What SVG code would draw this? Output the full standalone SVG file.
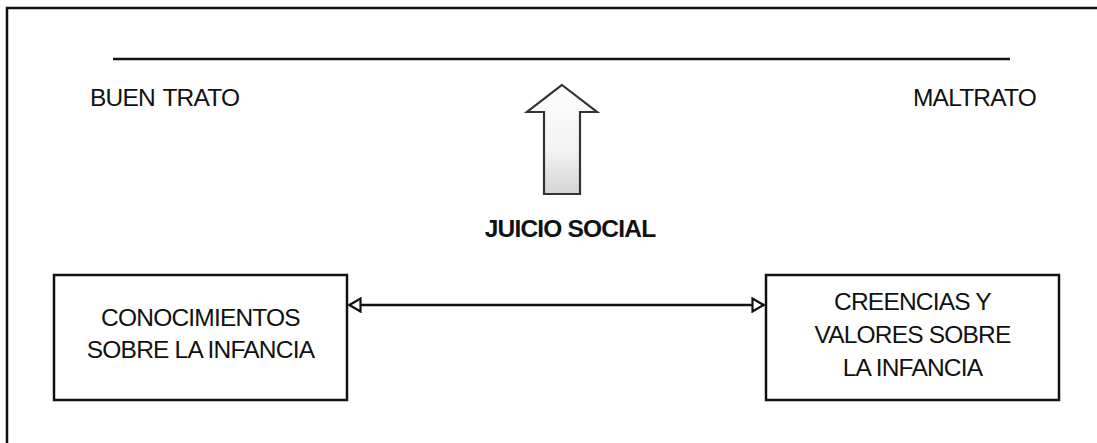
<svg xmlns="http://www.w3.org/2000/svg" width="1097" height="443" viewBox="0 0 1097 443">
  <style>
    .lbl { font-family: "Liberation Sans", Arial, sans-serif; font-size: 24.5px; letter-spacing: -0.8px; fill: #111; }
    .bold { font-weight: bold; }
    .box { fill: #fff; stroke: #111; stroke-width: 2.5; }
    .line { stroke: #111; stroke-width: 2.5; fill: none; }
  </style>
  <defs>
    <linearGradient id="arrowFill" x1="0" y1="0" x2="0" y2="1">
      <stop offset="0" stop-color="#fdfdfd"/>
      <stop offset="0.6" stop-color="#f3f3f3"/>
      <stop offset="1" stop-color="#d4d4d4"/>
    </linearGradient>
    <marker id="openTri" viewBox="0 0 14 16" refX="13" refY="8" markerWidth="14" markerHeight="16" markerUnits="userSpaceOnUse" orient="auto-start-reverse">
      <path d="M1.5,1.5 L12.5,8 L1.5,14.5 Z" fill="#fff" stroke="#111" stroke-width="2.2"/>
    </marker>
  </defs>

  <rect width="1097" height="443" fill="#fff"/>

  <!-- outer frame (runs off the right and bottom edges) -->
  <path d="M7,460 V8 H1110" class="line"/>

  <!-- scale line -->
  <line x1="113" y1="59" x2="1010" y2="59" class="line"/>

  <g id="buen-trato">
    <text x="90" y="106" class="lbl" word-spacing="2">BUEN TRATO</text>
  </g>
  <g id="maltrato">
    <text x="913" y="106" class="lbl">MALTRATO</text>
  </g>

  <g id="juicio-social">
    <path d="M562,85 L597,112 L580,112 L580,194 L544,194 L544,112 L527,112 Z" fill="url(#arrowFill)" stroke="#333" stroke-width="2.2" stroke-linejoin="miter"/>
    <text x="570" y="237" text-anchor="middle" class="lbl bold">JUICIO SOCIAL</text>
  </g>

  <g id="conocimientos">
    <rect x="54" y="275" width="293" height="125" class="box"/>
    <text x="200.5" y="326" text-anchor="middle" class="lbl">CONOCIMIENTOS</text>
    <text x="200.5" y="358" text-anchor="middle" class="lbl">SOBRE LA INFANCIA</text>
  </g>

  <g id="creencias">
    <rect x="766" y="275" width="293" height="125" class="box"/>
    <text x="912.5" y="310" text-anchor="middle" class="lbl">CREENCIAS Y</text>
    <text x="912.5" y="343" text-anchor="middle" class="lbl">VALORES SOBRE</text>
    <text x="912.5" y="376" text-anchor="middle" class="lbl">LA INFANCIA</text>
  </g>

  <g id="connectors">
    <line x1="349" y1="305" x2="764" y2="305" class="line" marker-start="url(#openTri)" marker-end="url(#openTri)"/>
  </g>
</svg>
